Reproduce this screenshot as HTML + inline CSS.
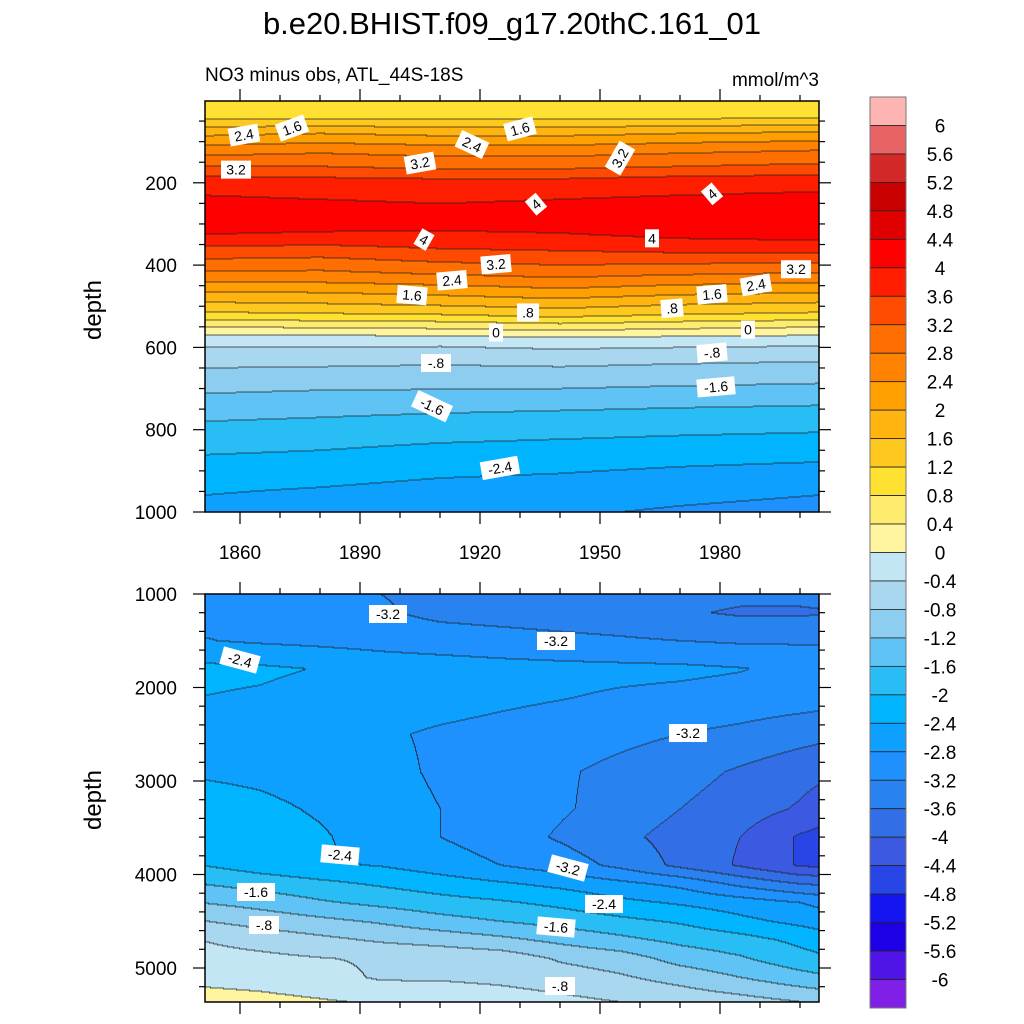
<!DOCTYPE html>
<html><head><meta charset="utf-8"><style>
html,body{margin:0;padding:0;background:#fff;}
svg{display:block;font-family:"Liberation Sans",sans-serif;}
</style></head><body>
<svg id="chart" width="1024" height="1024" viewBox="0 0 1024 1024">
<text x="512" y="34" text-anchor="middle" font-size="31">b.e20.BHIST.f09_g17.20thC.161_01</text>
<text x="205" y="81" font-size="19">NO3 minus obs, ATL_44S-18S</text>
<text x="819" y="86" text-anchor="end" font-size="19">mmol/m^3</text>
<text transform="translate(101,310) rotate(-90)" text-anchor="middle" font-size="24">depth</text>
<text transform="translate(101,800) rotate(-90)" text-anchor="middle" font-size="24">depth</text>
<g id="topFill"></g>
<g id="botFill"></g>
<g id="axes"></g>
<g id="labels"></g>
<g id="cbar"></g>
</svg>
<script>
// ---- data ----
const levelColors=["#8020e6","#5014e6","#1e00e6","#1414f0","#2846e6","#3c5ae1","#326ee6","#2882f0","#1e91ff","#0ea0ff","#00b4ff","#28bef5","#5fc3f5","#8ccdf0","#aad7f0","#c3e6f5","#fff5a0","#ffeb6e","#ffe132","#ffc81e","#ffb40f","#ffa000","#ff8200","#ff6e00","#ff4b00","#ff1e00","#ff0000","#e10000","#c80000","#d22828","#e86464","#ffb4b4"];
const levelLabels=["6","5.6","5.2","4.8","4.4","4","3.6","3.2","2.8","2.4","2","1.6","1.2","0.8","0.4","0","-0.4","-0.8","-1.2","-1.6","-2","-2.4","-2.8","-3.2","-3.6","-4","-4.4","-4.8","-5.2","-5.6","-6"];
const xTickYears=[1860,1890,1920,1950,1980];
const topDepthTicks=[200,400,600,800,1000];
const botDepthTicks=[1000,2000,3000,4000,5000];
const topYears=[1850,1880,1910,1940,1970,2010];
const topDepths=[5,40,55,80,120,160,190,220,250,280,310,340,370,400,430,460,490,520,550,580,620,680,760,850,940,1000];
const topValues=[
[0.9,0.9,0.9,0.9,0.9,0.9],
[1.1,1.1,1.1,1.1,1.1,1.15],
[1.4,1.45,1.4,1.4,1.45,1.5],
[1.9,2.0,1.9,1.9,2.0,2.1],
[2.6,2.7,2.6,2.6,2.7,2.8],
[3.2,3.2,3.1,3.1,3.2,3.3],
[3.7,3.65,3.6,3.6,3.7,3.75],
[3.95,3.9,3.85,3.9,3.95,4.0],
[4.1,4.05,4.0,4.05,4.1,4.15],
[4.3,4.2,4.1,4.15,4.3,4.4],
[4.2,4.1,4.05,4.1,4.25,4.4],
[3.8,3.75,3.8,3.85,3.95,4.0],
[3.4,3.35,3.5,3.55,3.6,3.6],
[3.0,2.95,3.1,3.2,3.15,3.1],
[2.6,2.6,2.7,2.8,2.7,2.6],
[2.1,2.1,2.2,2.35,2.2,2.1],
[1.6,1.65,1.75,1.85,1.7,1.6],
[1.1,1.15,1.2,1.35,1.2,1.1],
[0.4,0.45,0.5,0.6,0.5,0.4],
[-0.2,-0.2,-0.2,-0.1,-0.15,-0.2],
[-0.6,-0.6,-0.65,-0.6,-0.65,-0.7],
[-1.0,-1.05,-1.05,-1.05,-1.1,-1.15],
[-1.5,-1.55,-1.6,-1.65,-1.7,-1.75],
[-1.95,-2.0,-2.1,-2.15,-2.2,-2.25],
[-2.35,-2.4,-2.5,-2.55,-2.65,-2.75],
[-2.5,-2.6,-2.7,-2.75,-2.85,-2.95]];
const botYears=[1850,1865,1880,1895,1910,1925,1940,1955,1970,1985,2000,2010];
const botDepths=[1000,1200,1500,1800,2100,2500,2900,3300,3600,3900,4100,4300,4500,4700,4900,5100,5400];
const botValues=[
[-3.0,-3.05,-3.1,-3.2,-3.3,-3.35,-3.4,-3.4,-3.45,-3.5,-3.5,-3.5],
[-2.9,-2.95,-3.0,-3.15,-3.3,-3.35,-3.4,-3.45,-3.55,-3.65,-3.65,-3.6],
[-2.78,-2.85,-2.9,-2.95,-3.0,-3.05,-3.1,-3.15,-3.2,-3.25,-3.25,-3.25],
[-2.3,-2.33,-2.42,-2.55,-2.6,-2.65,-2.68,-2.7,-2.72,-2.78,-2.9,-2.95],
[-2.4,-2.45,-2.55,-2.6,-2.65,-2.72,-2.78,-2.85,-2.9,-2.95,-3.0,-3.05],
[-2.5,-2.55,-2.62,-2.75,-2.85,-2.92,-3.0,-3.1,-3.2,-3.3,-3.45,-3.55],
[-2.45,-2.5,-2.6,-2.7,-2.85,-2.95,-3.15,-3.3,-3.45,-3.65,-3.85,-3.95],
[-2.2,-2.3,-2.45,-2.65,-2.8,-2.95,-3.15,-3.35,-3.6,-3.8,-4.05,-4.35],
[-2.1,-2.2,-2.35,-2.6,-2.8,-3.0,-3.25,-3.5,-3.75,-4.0,-4.45,-4.6],
[-2.0,-2.2,-2.35,-2.42,-2.6,-2.8,-3.0,-3.3,-3.7,-4.05,-4.45,-4.5],
[-1.6,-1.75,-1.9,-2.05,-2.2,-2.35,-2.5,-2.7,-2.9,-3.3,-3.6,-3.7],
[-1.2,-1.35,-1.55,-1.7,-1.85,-1.95,-2.1,-2.3,-2.45,-2.6,-2.8,-3.0],
[-0.78,-0.95,-1.1,-1.25,-1.45,-1.6,-1.75,-1.9,-2.05,-2.3,-2.5,-2.65],
[-0.4,-0.55,-0.7,-0.85,-0.95,-1.1,-1.3,-1.5,-1.7,-1.85,-2.1,-2.3],
[-0.25,-0.3,-0.38,-0.45,-0.5,-0.55,-0.85,-1.0,-1.35,-1.55,-1.85,-2.0],
[-0.1,-0.15,-0.25,-0.45,-0.45,-0.5,-0.6,-0.75,-0.95,-1.2,-1.45,-1.6],
[0.2,0.15,0.08,0.02,-0.05,-0.15,-0.25,-0.35,-0.45,-0.55,-0.7,-0.8]];
const topLabelText=["2.4","1.6","3.2","3.2","2.4","1.6","3.2","4","4","4","4","3.2","2.4","1.6",".8","0","-.8","-1.6","3.2","2.4","1.6",".8","0","-.8","-1.6","-2.4"];
const topLabelYear=[1861,1873,1859,1905,1918,1930,1955,1934,1906,1978,1963,1999,1989,1978,1968,1987,1978,1979,1924,1913,1903,1932,1924,1909,1908,1925];
const topLabelDepth=[84,67,168,152,107,69,140,252,338,227,335,410,448,471,505,557,613,696,398,437,473,515,564,638,743,893];
const topLabelRot=[-10,-20,0,-10,25,-15,-60,-40,30,-40,0,0,-10,-5,-5,0,-5,-5,-5,-5,5,0,0,0,25,-10];
const botLabelText=["-3.2","-3.2","-2.4","-3.2","-2.4","-3.2","-2.4","-1.6","-1.6","-.8","-.8"];
const botLabelYear=[1897,1939,1860,1972,1885,1942,1951,1864,1939,1866,1940];
const botLabelDepth=[1214,1503,1706,2487,3791,3930,4316,4187,4561,4540,5193];
const botLabelRot=[0,0,15,0,5,15,0,0,5,0,0];
</script>
<script>
const NS="http://www.w3.org/2000/svg";
const X0=205,X1=819,TY0=101,TY1=512,BY0=594,BY1=1002;
function xScale(yr){return 240+(yr-1860)*4;}
function xInv(px){return 1860+(px-240)/4;}
function yTop(d){return 100.5+d*0.4115;}
function yTopInv(py){return (py-100.5)/0.4115;}
function yBot(d){return 594+(d-1000)*0.0935;}
function yBotInv(py){return 1000+(py-594)/0.0935;}
function mk(tag,attrs,parent){const e=document.createElementNS(NS,tag);for(const k in attrs)e.setAttribute(k,attrs[k]);parent.appendChild(e);return e;}
function interp1(arr,v){let i=0;if(v<=arr[0])return[0,0];if(v>=arr[arr.length-1])return[arr.length-2,1];while(i<arr.length-2&&arr[i+1]<v)i++;return[i,(v-arr[i])/(arr[i+1]-arr[i])];}
function bilin(years,depths,vals,yr,d){const[xi,xf]=interp1(years,yr);const[yi,yf]=interp1(depths,d);const a=vals[yi][xi],b=vals[yi][xi+1],c=vals[yi+1][xi],e=vals[yi+1][xi+1];return (a*(1-xf)+b*xf)*(1-yf)+(c*(1-xf)+e*xf)*yf;}
function levelIdx(v){let n=0;for(let i=0;i<31;i++){if(-6+0.4*i<v-1e-9)n++;}return n;}
function drawPanel(g,years,depths,vals,y0,y1,yInv){
  const W=X1-X0,H=y1-y0;const grid=[];
  for(let r=0;r<H;r++){const row=[];const d=yInv(y0+r+0.5);for(let c=0;c<W;c++){row.push(levelIdx(bilin(years,depths,vals,xInv(X0+c+0.5),d)));}grid.push(row);}
  for(let r=0;r<H;r++){let s=0;const row=grid[r];for(let c=1;c<=W;c++){if(c===W||row[c]!==row[s]){
    const rc=mk('rect',{x:X0+s,y:y0+r,width:c-s,height:1.2,fill:levelColors[row[s]]},g);
    
    
    s=c;}}}
  for(let r=1;r<H;r++){let s=-1;for(let c=0;c<=W;c++){const b=c<W&&(grid[r][c]!==grid[r-1][c]||(c>0&&grid[r][c]!==grid[r][c-1]));
    if(b&&s<0)s=c;if(!b&&s>=0){const ln=mk('rect',{x:X0+s,y:y0+r-0.5,width:c-s,height:1,fill:'#222','fill-opacity':0.75},g);
    
    
    s=-1;}}}
}
drawPanel(document.getElementById('topFill'),topYears,topDepths,topValues,TY0,TY1,yTopInv);
drawPanel(document.getElementById('botFill'),botYears,botDepths,botValues,BY0,BY1,yBotInv);
// axes
const ax=document.getElementById('axes');
function line(x1,y1,x2,y2,name){const l=mk('line',{x1,y1,x2,y2,stroke:'#000','stroke-width':1.2},ax);

}
function txt(x,y,s,anchor,size,name,parent){const t=mk('text',{x,y,'text-anchor':anchor,'font-size':size},parent||ax);t.textContent=s;

return t;}
[[TY0,TY1],[BY0,BY1]].forEach(([a,b],pi)=>{
  const fr=mk('rect',{x:X0,y:a,width:X1-X0,height:b-a,fill:'none',stroke:'#000','stroke-width':1.5},ax);
  
  
  for(let yr=1860;yr<=2000;yr+=10){const x=xScale(yr);if(x<X0||x>X1)continue;const major=(yr-1860)%30===0;const L=major?12:6;
    line(x,b,x,b+L,'x-tick');line(x,a,x,a-L,'x-tick');}
});
xTickYears.forEach(yr=>txt(xScale(yr),559,String(yr),'middle',19,'x-tick-label'));
for(let d=50;d<=1000;d+=50){const y=yTop(d);if(y<TY0)continue;const major=d%200===0;const L=major?12:6;line(X0,y,X0-L,y,'y-tick');line(X1,y,X1+L,y,'y-tick');}
topDepthTicks.forEach(d=>txt(177,yTop(d)+7,String(d),'end',19,'y-tick-label'));
for(let d=1000;d<=5400;d+=200){const y=yBot(d);if(y>BY1)continue;const major=d%1000===0;const L=major?12:6;line(X0,y,X0-L,y,'y-tick');line(X1,y,X1+L,y,'y-tick');}
botDepthTicks.forEach(d=>txt(177,yBot(d)+7,String(d),'end',19,'y-tick-label'));
// contour labels
const lg=document.getElementById('labels');
function clabel(x,y,s,rot){const g=mk('g',{transform:`translate(${x},${y}) rotate(${rot})`},lg);


const w=s.length*8+6;mk('rect',{x:-w/2,y:-9,width:w,height:18,fill:'#fff'},g);const t=mk('text',{x:0,y:5,'text-anchor':'middle','font-size':14},g);t.textContent=s;}
topLabelText.forEach((s,i)=>clabel(xScale(topLabelYear[i]),yTop(topLabelDepth[i]),s,topLabelRot[i]));
botLabelText.forEach((s,i)=>clabel(xScale(botLabelYear[i]),yBot(botLabelDepth[i]),s,botLabelRot[i]));
// colorbar
const cb=document.getElementById('cbar');const CB0=97,CBH=(1008-97)/32;
for(let i=0;i<32;i++){const r=mk('rect',{x:870,y:CB0+i*CBH,width:36,height:CBH,fill:levelColors[31-i],stroke:'#222','stroke-width':0.8},cb);

}
const cf=mk('rect',{x:870,y:CB0,width:36,height:32*CBH,fill:'none',stroke:'#777','stroke-width':1},cb);


levelLabels.forEach((s,i)=>txt(940,CB0+(i+1)*CBH+7,s,'middle',19,'colorbar-label',cb));
</script>
</body></html>
